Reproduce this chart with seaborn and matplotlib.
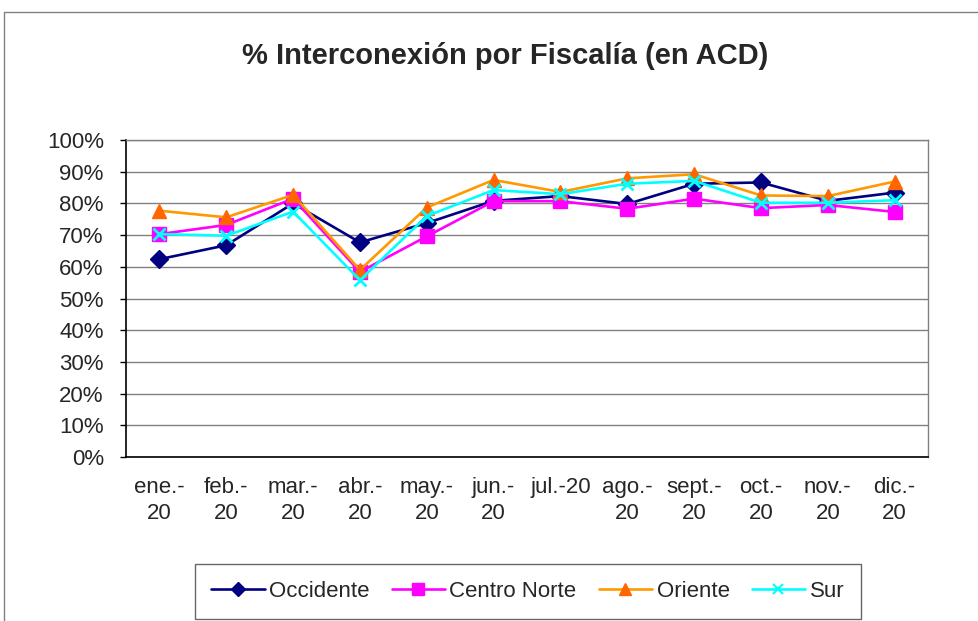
import numpy as np
import pandas as pd
import seaborn as sns
import matplotlib.pyplot as plt
from matplotlib.lines import Line2D

meses = ["ene.-\n20", "feb.-\n20", "mar.-\n20", "abr.-\n20", "may.-\n20", "jun.-\n20",
         "jul.-20", "ago.-\n20", "sept.-\n20", "oct.-\n20", "nov.-\n20", "dic.-\n20"]
occidente = [62.4, 66.8, 80.0, 67.7, 73.8, 80.8, 82.3, 79.8, 86.2, 86.6, 80.8, 83.4]
centro_norte = [70.3, 73.2, 81.5, 58.4, 69.6, 80.7, 80.7, 78.3, 81.5, 78.5, 79.5, 77.3]
oriente = [77.7, 75.6, 82.7, 59.0, 78.7, 87.4, 83.6, 87.9, 89.2, 82.5, 82.3, 86.9]
sur = [70.3, 69.8, 77.4, 55.8, 76.0, 84.2, 82.9, 86.2, 87.1, 80.2, 80.2, 81.0]

series = {
    "Occidente": (occidente, "#000080", "#000080", "D", 9),
    "Centro Norte": (centro_norte, "#FF00FF", "#FF00FF", "s", 10),
    "Oriente": (oriente, "#FF9900", "#FF6600", "^", 10),
    "Sur": (sur, "#00FFFF", "#00FFFF", "x", 9),
}

sns.set_style("white")
plt.rcParams['font.family'] = ['Liberation Sans', 'DejaVu Sans']

fig = plt.figure(figsize=(9.79, 6.21), dpi=100)
ax = fig.add_axes([0.1287, 0.264, 0.8193, 0.5106])

handles = []
for nombre, (vals, lc, mc, mk, ms) in series.items():
    df = pd.DataFrame({"x": np.arange(len(meses)), "y": vals})
    sns.lineplot(data=df, x="x", y="y", ax=ax, color=lc, linewidth=1.9,
                 marker=mk, markersize=ms, markerfacecolor=mc, markeredgecolor=mc,
                 markeredgewidth=2 if mk == "x" else 1)
    handles.append(Line2D([], [], color=lc, linewidth=1.9, marker=mk, markersize=ms - 2,
                          markerfacecolor=mc, markeredgecolor=mc,
                          markeredgewidth=1.5 if mk == "x" else 1, label=nombre))

ax.set_xlim(-0.5, len(meses) - 0.5)
ax.set_ylim(0, 100)
ax.set_yticks(np.arange(0, 101, 10))
ax.set_yticklabels([f"{v}%" for v in range(0, 101, 10)], fontsize=16)
ax.set_xticks(np.arange(len(meses)))
ax.set_xticklabels(meses, fontsize=16, linespacing=1.35)
ax.set_xticks(np.arange(-0.5, len(meses), 1), minor=True)
ax.tick_params(axis="x", which="major", length=0, pad=14)
ax.tick_params(axis="x", which="minor", length=5, width=1, direction="out", color="black")
ax.tick_params(axis="y", length=4, width=1, direction="out", color="black", left=True, pad=12)
ax.set_xlabel("")
ax.set_ylabel("")
ax.yaxis.grid(True, color="#808080", linewidth=1)
ax.set_axisbelow(True)
for s in ["top", "right"]:
    ax.spines[s].set_color("#808080")
    ax.spines[s].set_linewidth(1)
for s in ["left", "bottom"]:
    ax.spines[s].set_color("black")
    ax.spines[s].set_linewidth(1.2)

fig.text(0.516, 0.897, "% Interconexión por Fiscalía (en ACD)", ha="center", va="baseline",
         fontsize=21, fontweight="bold")

leg = fig.legend(handles=handles, loc="center", bbox_to_anchor=(0.539, 0.0475), ncol=4,
                 fontsize=16, frameon=True, fancybox=False, handlelength=2.4,
                 handletextpad=0.2, columnspacing=1.0, borderpad=0.75)
leg.get_frame().set_edgecolor("#404040")
leg.get_frame().set_linewidth(1)

# outer chart frame
fig.add_artist(plt.Line2D([0.004, 0.004], [0, 0.981], color="#808080", linewidth=1))
fig.add_artist(plt.Line2D([0.004, 1], [0.981, 0.981], color="#808080", linewidth=1))

fig.savefig("out.png", dpi=100)
